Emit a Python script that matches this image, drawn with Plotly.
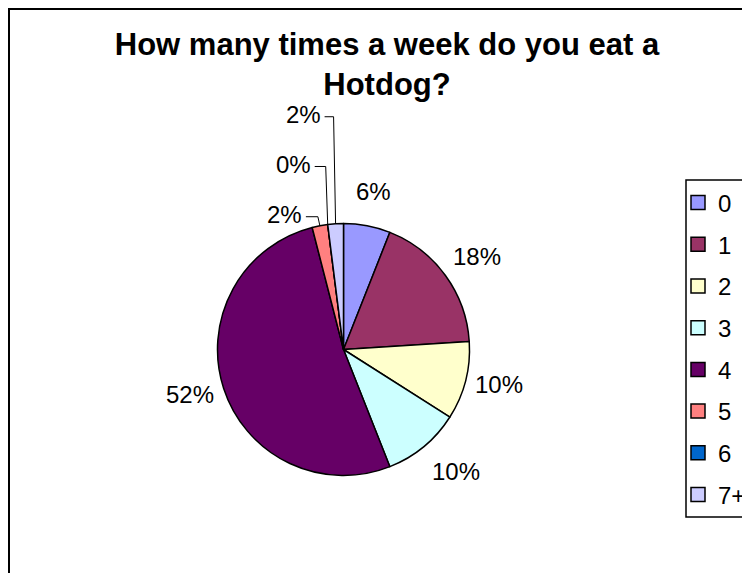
import math
import plotly.graph_objects as go

categories = ["0", "1", "2", "3", "4", "5", "6", "7+"]
percents = [6, 18, 10, 10, 52, 2, 0, 2]
colors = ["#9999FF", "#993366", "#FFFFCC", "#CCFFFF", "#660066", "#FF8080", "#0066CC", "#CCCCFF"]
title_text = "How many times a week do you eat a<br>Hotdog?"

W, H = 750, 573
FONT = "Arial, Liberation Sans, sans-serif"

# pie geometry in figure pixels
cx, cy, r = 335.5, 341.5, 126
label_dist = r + 35
# small pixel nudges for label placement
label_nudges = {1: (3, 2), 2: (0, -5), 3: (10, -2), 4: (0, -5)}
# label offsets (pixels, relative to slice edge point) for the crowded small slices
leader_offsets = {5: (-35, -11), 6: (-34, -60), 7: (-32, -109)}


def px(x):
    return x / W


def py(y):
    return 1 - y / H


fig = go.Figure()
fig.add_trace(go.Pie(
    labels=categories,
    values=percents,
    sort=False,
    direction="clockwise",
    rotation=0,
    marker=dict(colors=colors, line=dict(color="black", width=1.5)),
    textinfo="none",
    showlegend=False,
    domain=dict(x=[px(cx - r), px(cx + r)], y=[py(cy + r), py(cy - r)]),
    hoverinfo="label+percent",
))

for i, (c, col) in enumerate(zip(categories, colors)):
    fig.add_trace(go.Scatter(
        x=[None], y=[None], mode="markers", name=c,
        legendgroup=f"g{i}",
        marker=dict(symbol="square", size=14, color=col, line=dict(color="black", width=1.5)),
    ))

annotations = []
shapes = []
total = sum(percents)
cum = 0
for i, v in enumerate(percents):
    a0 = cum / total * 360
    cum += v
    a1 = cum / total * 360
    mid = math.radians((a0 + a1) / 2)
    txt = f"{round(v / total * 100)}%"
    if i in leader_offsets:
        ex = cx + r * math.sin(mid)
        ey = cy - r * math.cos(mid)
        dx, dy = leader_offsets[i]
        lx, ly = ex + dx, ey + dy
        annotations.append(dict(x=px(lx), y=py(ly), xref="paper", yref="paper", text=txt,
                                showarrow=False, font=dict(family=FONT, size=24, color="black"),
                                xanchor="center", yanchor="middle"))
        tx = lx + 21
        shapes.append(dict(type="path", xref="paper", yref="paper",
                           path=f"M {px(tx)},{py(ly + 2)} L {px(ex - 2)},{py(ly + 2)} L {px(ex)},{py(ey)}",
                           line=dict(color="black", width=1)))
    else:
        nx, ny = label_nudges.get(i, (0, 0))
        lx = cx + label_dist * math.sin(mid) + nx
        ly = cy - label_dist * math.cos(mid) + ny
        annotations.append(dict(x=px(lx), y=py(ly), xref="paper", yref="paper", text=txt,
                                showarrow=False, font=dict(family=FONT, size=24, color="black"),
                                xanchor="center", yanchor="middle"))

shapes += [
    dict(type="rect", xref="paper", yref="paper", x0=px(1), x1=1.2, y0=-0.2, y1=py(1),
         line=dict(color="black", width=2), layer="below"),
    dict(type="rect", xref="paper", yref="paper", x0=px(678), x1=1.2, y0=py(509), y1=py(172),
         line=dict(color="black", width=1.5), layer="below"),
]

fig.update_layout(
    width=W, height=H,
    margin=dict(l=0, r=0, t=0, b=0, autoexpand=False),
    paper_bgcolor="white", plot_bgcolor="white",
    xaxis=dict(visible=False), yaxis=dict(visible=False),
    title=dict(text=title_text, x=px(379), xanchor="center", y=py(47), yanchor="top",
               font=dict(family=FONT, size=31, color="black", weight="bold")),
    legend=dict(x=px(670), xanchor="left", y=py(172.5), yanchor="top",
                font=dict(family=FONT, size=24, color="black"),
                bgcolor="rgba(0,0,0,0)", borderwidth=0, tracegroupgap=7.5),
    annotations=annotations,
    shapes=shapes,
    showlegend=True,
)

fig.write_html("out.html")
